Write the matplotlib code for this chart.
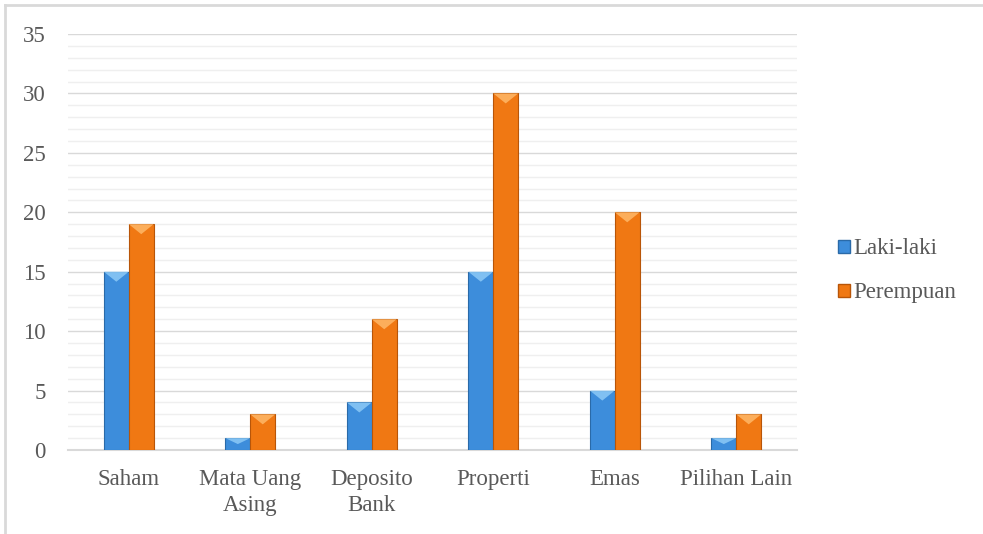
import matplotlib.pyplot as plt
import numpy as np
from matplotlib.patches import Patch, Polygon
from matplotlib.lines import Line2D
from matplotlib.ticker import MultipleLocator

# Data
kategori = ["Saham", "Mata Uang\nAsing", "Deposito\nBank", "Properti", "Emas", "Pilihan Lain"]
laki_laki = [15, 1, 4, 15, 5, 1]
perempuan = [19, 3, 11, 30, 20, 3]
seri = ["Laki-laki", "Perempuan"]

warna = ["#3d8ddb", "#f07813"]
warna_tepi = ["#2a6aa8", "#b85508"]
warna_terang = ["#8ccaf7", "#ffb868"]

plt.rcParams['font.family'] = ['Liberation Serif', 'DejaVu Serif']

fig = plt.figure(figsize=(9.83, 5.34), dpi=100)
ax = fig.add_axes([0.0692, 0.1573, 0.7416, 0.779])

x = np.arange(len(kategori))
lebar = 0.205
ylim_atas = 35
px_per_unit = 0.779 * 534 / ylim_atas

for i, (nilai, c, ce, cl) in enumerate(zip([laki_laki, perempuan], warna, warna_tepi, warna_terang)):
    bars = ax.bar(x + (i - 0.5) * lebar, nilai, lebar, color=c, edgecolor=ce,
                  linewidth=0.8, zorder=3)
    for b in bars:
        x0 = b.get_x()
        x1 = x0 + b.get_width()
        top = b.get_height()
        d = min(10 / px_per_unit, top / 2)
        tri = Polygon([(x0, top), (x1, top), (x0 + b.get_width() / 2, top - d)],
                      closed=True, facecolor=cl, edgecolor='none', alpha=0.85, zorder=4)
        ax.add_patch(tri)

ax.set_xlim(-0.5, len(kategori) - 0.5)
ax.set_ylim(0, ylim_atas)
ax.yaxis.set_major_locator(MultipleLocator(5))
ax.yaxis.set_minor_locator(MultipleLocator(1))
ax.grid(axis='y', which='major', color='#d9d9d9', linewidth=1, zorder=0)
ax.grid(axis='y', which='minor', color='#efefef', linewidth=1, zorder=0)
ax.set_axisbelow(True)

ax.set_xticks(x)
ax.set_xticklabels(kategori, linespacing=1.3)
ax.tick_params(axis='both', which='both', length=0, labelsize=16.5, colors='#595959')
ax.tick_params(axis='x', pad=14)
ax.tick_params(axis='y', pad=16)

for s in ['top', 'right', 'left']:
    ax.spines[s].set_visible(False)
ax.spines['bottom'].set_color('#d9d9d9')
ax.spines['bottom'].set_linewidth(1.5)

handles = [Patch(facecolor=warna[k], edgecolor=warna_tepi[k], label=seri[k]) for k in range(2)]
fig.legend(handles=handles, loc='center left', bbox_to_anchor=(0.832, 0.493),
           frameon=False, fontsize=16.5, handlelength=0.5, handleheight=0.5,
           handletextpad=0.15, labelspacing=1.0, labelcolor='#595959')

# frame lines of the chart area
fig.add_artist(Line2D([5 / 983, 5 / 983], [0, 1 - 5 / 534], color='#d9d9d9', linewidth=2))
fig.add_artist(Line2D([5 / 983, 982 / 983], [1 - 5 / 534, 1 - 5 / 534], color='#d9d9d9', linewidth=2))

fig.savefig("out.png", dpi=100)
